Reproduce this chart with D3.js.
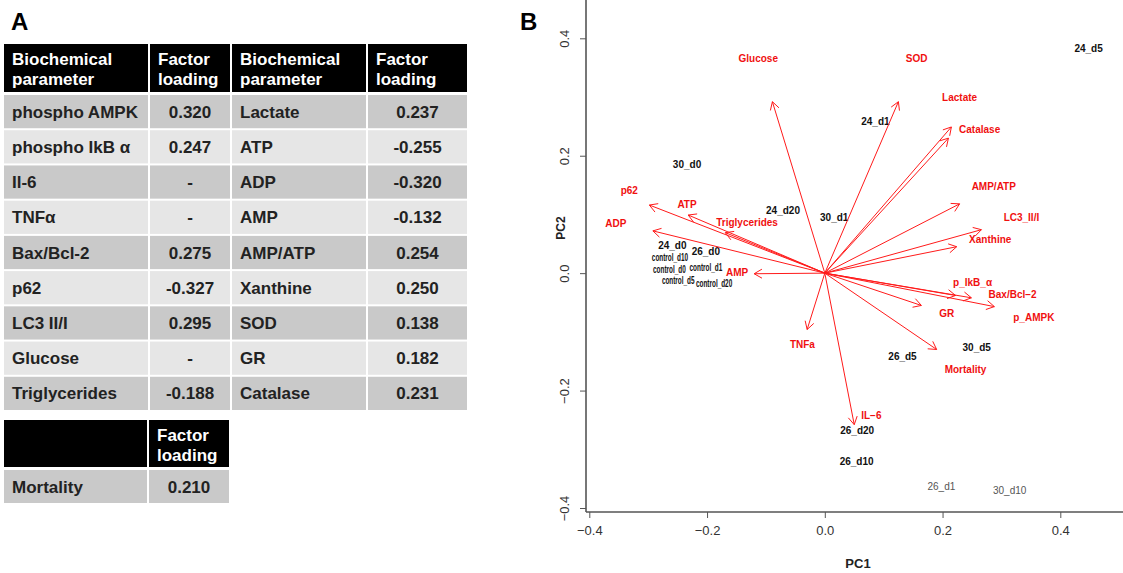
<!DOCTYPE html>
<html>
<head>
<meta charset="utf-8">
<script src="https://cdn.jsdelivr.net/npm/d3@7"></script>
<style>
body{margin:0;background:#fff;}
svg{display:block;font-family:"Liberation Sans",Arial,sans-serif;}
</style>
</head>
<body>
<svg id="chart" width="1123" height="573"></svg>
<script>
// ---- panel A table ----
var leftParams = ["phospho AMPK","phospho IkB \u03b1","Il-6","TNF\u03b1","Bax/Bcl-2","p62","LC3 II/I","Glucose","Triglycerides"];
var leftLoadings = ["0.320","0.247","-","-","0.275","-0.327","0.295","-","-0.188"];
var rightParams = ["Lactate","ATP","ADP","AMP","AMP/ATP","Xanthine","SOD","GR","Catalase"];
var rightLoadings = ["0.237","-0.255","-0.320","-0.132","0.254","0.250","0.138","0.182","0.231"];
var extraParams = ["Mortality"];
var extraLoadings = ["0.210"];

// ---- panel B biplot ----
var varNames = ["Glucose","SOD","Lactate","Catalase","AMP/ATP","LC3_II/I","Xanthine","p_IkB_\u03b1","Bax/Bcl\u22122","p_AMPK","GR","Mortality","IL\u22126","TNFa","AMP","ADP","p62","ATP","Triglycerides"];
var varPC1 = [-0.089,0.125,0.215,0.210,0.229,0.266,0.224,0.222,0.249,0.288,0.164,0.190,0.050,-0.030,-0.120,-0.292,-0.298,-0.232,-0.169];
var varPC2 = [0.292,0.292,0.249,0.230,0.118,0.074,0.045,-0.038,-0.042,-0.057,-0.055,-0.130,-0.258,-0.096,-0.001,0.072,0.116,0.099,0.069];
var varLabPC1 = [-0.113,0.156,0.229,0.263,0.287,0.334,0.281,0.251,0.319,0.355,0.207,0.239,0.079,-0.038,-0.149,-0.355,-0.332,-0.234,-0.132];
var varLabPC2 = [0.365,0.365,0.300,0.244,0.147,0.094,0.057,-0.016,-0.037,-0.076,-0.069,-0.164,-0.242,-0.122,0.001,0.084,0.140,0.117,0.086];

var obsNames = ["24_d5","24_d1","30_d0","24_d20","30_d1","24_d0","26_d0","control_d10","control_d0","control_d1","control_d5","control_d20","26_d5","30_d5","26_d20","26_d10","26_d1","30_d10"];
var obsPC1 = [0.448,0.086,-0.234,-0.071,0.016,-0.259,-0.202,-0.263,-0.264,-0.202,-0.249,-0.188,0.132,0.258,0.055,0.054,0.198,0.314];
var obsPC2 = [0.382,0.258,0.185,0.106,0.094,0.047,0.037,0.026,0.006,0.009,-0.013,-0.018,-0.142,-0.127,-0.268,-0.321,-0.363,-0.371];

var xTicks = [-0.4,-0.2,0.0,0.2,0.4];
var yTicks = [-0.4,-0.2,0.0,0.2,0.4];

var svg = d3.select("#chart");
svg.append("rect").attr("width",1123).attr("height",573).attr("fill","#fff");

// panel letters
svg.append("text").attr("x",11).attr("y",30).attr("font-size",24).attr("font-weight","bold").text("A");
svg.append("text").attr("x",520).attr("y",30).attr("font-size",24).attr("font-weight","bold").text("B");

// ---------- table ----------
var colEdges = [3,149,231,367,468];
var rowY = d3.scaleBand().domain(d3.range(leftParams.length)).range([94,411]).paddingInner(0);
var tableRows = leftParams.map(function(p,i){
    return [p,leftLoadings[i],rightParams[i],rightLoadings[i]];
});
var tbl = svg.append("g");

function headerCell(g,x0,x1,y0,y1,lines,anchor){
    g.append("rect").attr("x",x0+1).attr("y",y0).attr("width",x1-x0-2).attr("height",y1-y0).attr("fill","#000");
    lines.forEach(function(t,k){
        g.append("text")
            .attr("x",anchor==="middle"?(x0+x1)/2:x0+9)
            .attr("y",y0+21+k*20)
            .attr("text-anchor",anchor||"start")
            .attr("font-size",17).attr("font-weight","bold").attr("fill","#fff")
            .text(t);
    });
}
headerCell(tbl,colEdges[0],colEdges[1],44,92,["Biochemical","parameter"]);
headerCell(tbl,colEdges[1],colEdges[2],44,92,["Factor","loading"]);
headerCell(tbl,colEdges[2],colEdges[3],44,92,["Biochemical","parameter"]);
headerCell(tbl,colEdges[3],colEdges[4],44,92,["Factor","loading"]);

tableRows.forEach(function(r,i){
    var y0 = rowY(i)+1, h = rowY.bandwidth()-2;
    var fill = i%2===0 ? "#c9c9c9" : "#e6e6e6";
    r.forEach(function(v,j){
        var x0 = colEdges[j], x1 = colEdges[j+1];
        tbl.append("rect").attr("x",x0+1).attr("y",y0).attr("width",x1-x0-2).attr("height",h).attr("fill",fill);
        var isVal = (j%2===1);
        tbl.append("text")
            .attr("x",isVal?(x0+x1)/2:x0+9)
            .attr("y",y0+h/2+6)
            .attr("text-anchor",isVal?"middle":"start")
            .attr("font-size",17).attr("font-weight","bold").attr("fill","#222")
            .text(v);
    });
});

// mortality table
headerCell(tbl,3,148,420,467,[]);
headerCell(tbl,148,230,420,467,["Factor","loading"]);
extraParams.forEach(function(p,i){
    var y0 = 470+i*35, h = 33;
    tbl.append("rect").attr("x",4).attr("y",y0).attr("width",143).attr("height",h).attr("fill","#c9c9c9");
    tbl.append("rect").attr("x",149).attr("y",y0).attr("width",80).attr("height",h).attr("fill","#c9c9c9");
    tbl.append("text").attr("x",12).attr("y",y0+h/2+6).attr("font-size",17).attr("font-weight","bold").attr("fill","#222").text(p);
    tbl.append("text").attr("x",189).attr("y",y0+h/2+6).attr("text-anchor","middle").attr("font-size",17).attr("font-weight","bold").attr("fill","#222").text(extraLoadings[i]);
});

// ---------- biplot ----------
var x = d3.scaleLinear().domain([-0.4,0.4]).range([589.3,1060.3]);
var y = d3.scaleLinear().domain([-0.4,0.4]).range([508,38.3]);
var axisColor = "#555";
var plotLeft = 586, plotBottom = 512;

var gx = svg.append("g").attr("transform","translate(0,"+plotBottom+")")
    .call(d3.axisBottom(x).tickValues(xTicks).tickSize(6).tickFormat(d3.format(".1f")));
gx.select(".domain").remove();
gx.selectAll("line").attr("stroke",axisColor);
gx.selectAll("text").attr("font-size",13).attr("fill","#333").attr("dy","1.05em")
    .attr("font-family","Liberation Sans, Arial, sans-serif")
    .text(function(d){ return d3.format(".1f")(d).replace("-","\u2212"); });

var gy = svg.append("g").attr("transform","translate("+plotLeft+",0)")
    .call(d3.axisLeft(y).tickValues(yTicks).tickSize(6).tickFormat(d3.format(".1f")));
gy.select(".domain").remove();
gy.selectAll("line").attr("stroke",axisColor);
gy.selectAll("text").attr("font-size",13).attr("fill","#333")
    .attr("font-family","Liberation Sans, Arial, sans-serif")
    .attr("x",0).attr("dy",0)
    .attr("text-anchor","middle")
    .attr("transform","translate(-17,0) rotate(-90)")
    .text(function(d){ return d3.format(".1f")(d).replace("-","\u2212"); });

// box sides (left + bottom visible, rest cropped)
svg.append("line").attr("x1",plotLeft).attr("x2",plotLeft).attr("y1",0).attr("y2",plotBottom)
    .attr("stroke",axisColor).attr("stroke-width",1.6);
svg.append("line").attr("x1",plotLeft).attr("x2",1123).attr("y1",plotBottom).attr("y2",plotBottom)
    .attr("stroke",axisColor).attr("stroke-width",1.6);

svg.append("text").attr("x",858).attr("y",568).attr("text-anchor","middle")
    .attr("font-size",13).attr("font-weight","bold").attr("fill","#222").text("PC1");
svg.append("text").attr("transform","translate(565,228) rotate(-90)").attr("text-anchor","middle")
    .attr("font-size",12).attr("font-weight","bold").attr("fill","#222").text("PC2");

// observation labels
var plainLabels = ["26_d1","30_d10"];
var obs = svg.append("g");
obsNames.forEach(function(n,i){
    var px = x(obsPC1[i]), py = y(obsPC2[i]);
    if(n.indexOf("control")===0){
        obs.append("text")
            .attr("transform","translate("+px+","+py+") scale(0.64,1)")
            .attr("text-anchor","middle").attr("dy","0.35em")
            .attr("font-size",10).attr("font-weight","bold").attr("fill","#111")
            .text(n);
    } else if(plainLabels.indexOf(n)>=0){
        obs.append("text").attr("x",px).attr("y",py)
            .attr("text-anchor","middle").attr("dy","0.35em")
            .attr("font-size",10).attr("fill","#555")
            .text(n);
    } else {
        obs.append("text").attr("x",px).attr("y",py)
            .attr("text-anchor","middle").attr("dy","0.35em")
            .attr("font-size",10).attr("font-weight","bold").attr("fill","#111")
            .text(n);
    }
});

// variable arrows
var red = "#ff1a1a";
var arr = svg.append("g");
var ox = x(0), oy = y(0);
varNames.forEach(function(n,i){
    var tx = x(varPC1[i]), ty = y(varPC2[i]);
    arr.append("line").attr("x1",ox).attr("y1",oy).attr("x2",tx).attr("y2",ty)
        .attr("stroke",red).attr("stroke-width",1);
    var ang = Math.atan2(ty-oy,tx-ox), L = 9, a = Math.PI/6;
    var p1 = [tx-L*Math.cos(ang-a), ty-L*Math.sin(ang-a)];
    var p2 = [tx-L*Math.cos(ang+a), ty-L*Math.sin(ang+a)];
    arr.append("path").attr("d","M"+p1+"L"+tx+","+ty+"L"+p2)
        .attr("fill","none").attr("stroke",red).attr("stroke-width",1);
    arr.append("text").attr("x",x(varLabPC1[i])).attr("y",y(varLabPC2[i]))
        .attr("text-anchor","middle").attr("dy","0.35em")
        .attr("font-size",10).attr("font-weight","bold").attr("fill","#f01010")
        .text(n);
});
</script>
</body>
</html>
